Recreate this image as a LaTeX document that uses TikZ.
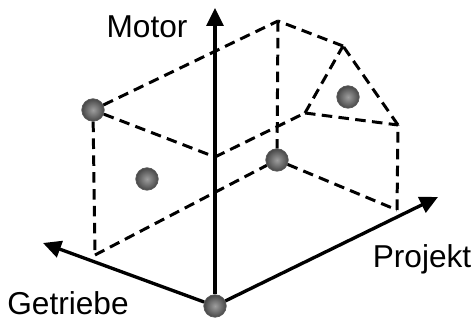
\documentclass[tikz,border=0pt]{standalone}
\usepackage{fontspec}
\setmainfont{Liberation Sans}
\usetikzlibrary{arrows.meta}
\tikzstyle{kugel} = [
circle,
minimum size=0.45cm,
inner sep=0pt,
shading=radial,
inner color=black!38,
outer color=black!72,
draw=black!65,
thin
]
\tikzstyle{kante} = [
dash pattern=on 6pt off 3.6pt,
line width=1.7pt
]
\tikzstyle{achse}=[-{Triangle[length=0.36cm,width=0.34cm]},line width=1.9pt]
\tikzstyle{label} = [
anchor=base,
font=\fontsize{18}{20}\selectfont
]

\begin{document}
\begin{tikzpicture}
        \useasboundingbox (0,0) rectangle (9.5,6.48);

        % Ecken des Koerpers
        \coordinate (B) at (1.90,1.38);
        \coordinate (C) at (4.30,3.34);
        \coordinate (D) at (6.10,4.22);
        \coordinate (F) at (7.94,2.28);
        \coordinate (T) at (5.56,6.06);
        \coordinate (H) at (6.86,5.56);
        \coordinate (K) at (7.96,3.98);

        % Achsenenden
        \coordinate (motor) at (4.30,6.32);
        \coordinate (getriebe) at (0.86,1.62);
        \coordinate (projekt) at (8.76,2.54);

        % Kugeln
        \node(O)[kugel] at (4.30,0.36) {};
        \node(A)[kugel] at (1.86,4.28) {};
        \node(E)[kugel] at (5.54,3.28) {};
        \node(links)[kugel] at (2.94,2.90) {};
        \node(dreieck)[kugel] at (6.96,4.54) {};

        \draw[kante] (A) -- (T);
        \draw[kante] (A) -- (C);
        \draw[kante] (A) -- (B);
        \draw[kante] (B) -- (E);
        \draw[kante] (E) -- (F);
        \draw[kante] (F) -- (K);
        \draw[kante] (K) -- (H);
        \draw[kante] (H) -- (T);
        \draw[kante] (T) -- (E);
        \draw[kante] (C) -- (D);
        \draw[kante] (D) -- (H);
        \draw[kante] (D) -- (K);

        \draw[achse] (O) -- (motor);
        \draw[achse] (O) -- (getriebe);
        \draw[achse] (O) -- (projekt);

        \node(lmotor)[label] at (2.94,5.72) {Motor};
        \node(lgetriebe)[label] at (1.36,0.18) {Getriebe};
        \node(lprojekt)[label] at (8.44,1.12) {Projekt};

        \end{tikzpicture}
\end{document}
